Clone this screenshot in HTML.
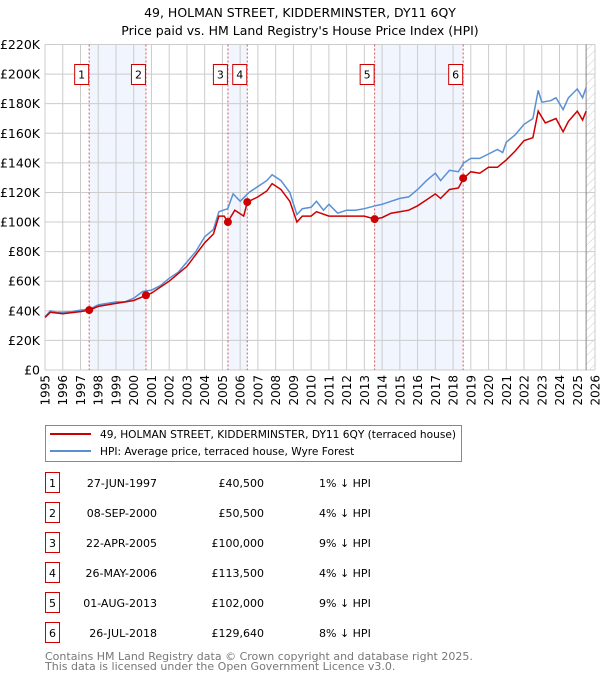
<!DOCTYPE html>
<html><head><meta charset="utf-8"><style>
body{margin:0;background:#fff;font-family:"Liberation Sans","DejaVu Sans",sans-serif;}
svg text{font-family:"DejaVu Sans","Liberation Sans",sans-serif;}
</style></head><body>
<svg id="c" width="600" height="680" xmlns="http://www.w3.org/2000/svg">
<defs><pattern id="hatch" width="6" height="6" patternUnits="userSpaceOnUse" patternTransform="rotate(45)"><line x1="0" y1="0" x2="0" y2="6" stroke="#ccc" stroke-width="1"/></pattern></defs>
<text x="300" y="17" text-anchor="middle" font-size="12.5">49, HOLMAN STREET, KIDDERMINSTER, DY11 6QY</text>
<text x="300" y="35" text-anchor="middle" font-size="12.5">Price paid vs. HM Land Registry's House Price Index (HPI)</text>
<g id="plot"></g>
<g>
<rect x="45.5" y="425.5" width="416" height="36" fill="#fff" stroke="#888"/>
<line x1="50" y1="434" x2="91" y2="434" stroke="#cc0000" stroke-width="2"/>
<text x="100" y="438" font-size="10.6">49, HOLMAN STREET, KIDDERMINSTER, DY11 6QY (terraced house)</text>
<line x1="50" y1="451" x2="91" y2="451" stroke="#5b8fd4" stroke-width="2"/>
<text x="100" y="455" font-size="10.6">HPI: Average price, terraced house, Wyre Forest</text>
</g>
<g id="table"></g>
<text x="45" y="660" font-size="11" fill="#777">Contains HM Land Registry data © Crown copyright and database right 2025.</text>
<text x="45" y="670" font-size="11" fill="#777">This data is licensed under the Open Government Licence v3.0.</text>
</svg>
<script>
const hpiDates=[1995,1995.3,1995.7,1996,1996.5,1997,1997.5,1998,1998.5,1999,1999.5,2000,2000.5,2001,2001.5,2002,2002.5,2003,2003.5,2004,2004.5,2004.8,2005.3,2005.6,2006,2006.5,2007,2007.5,2007.8,2008.3,2008.8,2009.2,2009.5,2010,2010.3,2010.7,2011,2011.5,2012,2012.5,2013,2013.6,2014,2014.5,2015,2015.5,2016,2016.5,2017,2017.3,2017.8,2018.3,2018.6,2019,2019.5,2020,2020.5,2020.8,2021,2021.5,2022,2022.5,2022.8,2023,2023.5,2023.8,2024.2,2024.5,2025,2025.3,2025.5];
const hpiValues=[36,40,39,39,39.5,40.5,41,44,45,46,46,48.5,53,54,57,62,66,73,80,90,95,107,109,119,114,120,124,128,132,128,120,105,109,110,114,108,112,106,108,108,109,111,112,114,116,117,122,128,133,128,135,134,140,143,143,146,149,147,154,159,166,170,189,181,182,184,176,184,190,184,191];
const propDates=[1995,1995.3,1996,1997,1997.5,1998,1999,2000,2000.7,2001,2002,2003,2004,2004.5,2004.8,2005.1,2005.3,2005.7,2006.2,2006.4,2007,2007.5,2007.8,2008.3,2008.8,2009.2,2009.5,2010,2010.3,2011,2012,2012.5,2013,2013.6,2014,2014.5,2015,2015.5,2016,2016.5,2017,2017.3,2017.8,2018.3,2018.6,2019,2019.5,2020,2020.5,2021,2021.5,2022,2022.5,2022.8,2023.2,2023.8,2024.2,2024.5,2025,2025.3,2025.5];
const propValues=[35.5,39,38,39.5,40.5,43,45,47,50.5,52,60,70,86,92,104,104,100,108,104,113.5,117,121,126,122,114,100,104,104,107,104,104,104,104,102,103,106,107,108,111,115,119,116,122,123,129.6,134,133,137,137,142,148,155,157,175,167,170,161,168,175,169,175];
const saleDates=[1997.49,2000.69,2005.31,2006.4,2013.58,2018.57];
const saleValues=[40.5,50.5,100,113.5,102,129.64];
const saleLabels=["1","2","3","4","5","6"];
const saleDateText=["27-JUN-1997","08-SEP-2000","22-APR-2005","26-MAY-2006","01-AUG-2013","26-JUL-2018"];
const salePriceText=["£40,500","£50,500","£100,000","£113,500","£102,000","£129,640"];
const saleHpiText=["1% ↓ HPI","4% ↓ HPI","9% ↓ HPI","4% ↓ HPI","9% ↓ HPI","8% ↓ HPI"];
const yTicks=[0,20,40,60,80,100,120,140,160,180,200,220];
const xYears=[1995,1996,1997,1998,1999,2000,2001,2002,2003,2004,2005,2006,2007,2008,2009,2010,2011,2012,2013,2014,2015,2016,2017,2018,2019,2020,2021,2022,2023,2024,2025,2026];

const NS="http://www.w3.org/2000/svg";
const X0=45,X1=595,Y0=370,Y1=44.5;
const xs=t=>X0+(t-1995)/31*(X1-X0);
const ys=v=>Y0-v/220*(Y0-Y1);
function mk(tag,at,parent){const e=document.createElementNS(NS,tag);for(const k in at)e.setAttribute(k,at[k]);parent.appendChild(e);return e;}
const P=document.getElementById('plot');
for(let i=0;i<6;i+=2){
 const r=mk('rect',{x:xs(saleDates[i]),y:Y1,width:xs(saleDates[i+1])-xs(saleDates[i]),height:Y0-Y1,fill:'#eef3fc',opacity:0.8},P);
 
 
}
const hx=xs(2025.5);
const ha=mk('rect',{x:hx,y:Y1,width:X1-hx,height:Y0-Y1,fill:'url(#hatch)'},P);


xYears.forEach(y=>{const l=mk('line',{x1:xs(y),x2:xs(y),y1:Y1,y2:Y0,stroke:'#ccc','stroke-width':1},P);
 
 
 const t=mk('text',{x:0,y:0,'font-size':12,'text-anchor':'end',transform:`translate(${xs(y)+4.5},${Y0+5}) rotate(-90)`},P);t.textContent=y;
 
 
});
yTicks.forEach(v=>{const l=mk('line',{x1:X0,x2:X1,y1:ys(v),y2:ys(v),stroke:'#ccc','stroke-width':1},P);
 
 
 const t=mk('text',{x:40,y:ys(v)+4.5,'font-size':12.5,'text-anchor':'end'},P);t.textContent=v===0?'£0':'£'+v+'K';
 
 
});
const hl=mk('line',{x1:hx,x2:hx,y1:Y1,y2:Y0,stroke:'#888','stroke-width':1},P);


saleDates.forEach((d,i)=>{const l=mk('line',{x1:xs(d),x2:xs(d),y1:Y1,y2:Y0,stroke:'#e05555','stroke-width':1,'stroke-dasharray':'2,2'},P);
 
 
});
const pth=(ds,vs)=>ds.map((d,i)=>(i?'L':'M')+xs(d).toFixed(1)+','+ys(vs[i]).toFixed(1)).join('');
const hp=mk('path',{d:pth(hpiDates,hpiValues),fill:'none',stroke:'#5b8fd4','stroke-width':1.5},P);


const pp=mk('path',{d:pth(propDates,propValues),fill:'none',stroke:'#cc0000','stroke-width':1.5},P);


saleDates.forEach((d,i)=>{const c=mk('circle',{cx:xs(d),cy:ys(saleValues[i]),r:4,fill:'#cc0000'},P);
 
 
 const b=mk('rect',{x:xs(d)-14.5,y:64.5,width:14,height:20,fill:'#fff',stroke:'#cc0000'},P);
 
 
 const t=mk('text',{x:xs(d)-7.5,y:78.5,'font-size':11,'text-anchor':'middle'},P);t.textContent=saleLabels[i];
 
 
});
const T=document.getElementById('table');
saleLabels.forEach((s,i)=>{const yc=483+i*30;
 const b=mk('rect',{x:45.5,y:yc-10.5,width:14,height:20,fill:'#fff',stroke:'#cc0000'},T);
 
 
 const a=mk('text',{x:52.5,y:yc+4,'font-size':11,'text-anchor':'middle'},T);a.textContent=s;
 
 
 const d=mk('text',{x:157,y:yc+4,'font-size':11,'text-anchor':'end'},T);d.textContent=saleDateText[i];
 
 
 const p=mk('text',{x:264,y:yc+4,'font-size':11,'text-anchor':'end'},T);p.textContent=salePriceText[i];
 
 
 const h=mk('text',{x:319,y:yc+4,'font-size':11},T);h.textContent=saleHpiText[i];
 
 
});
</script>
</body></html>
